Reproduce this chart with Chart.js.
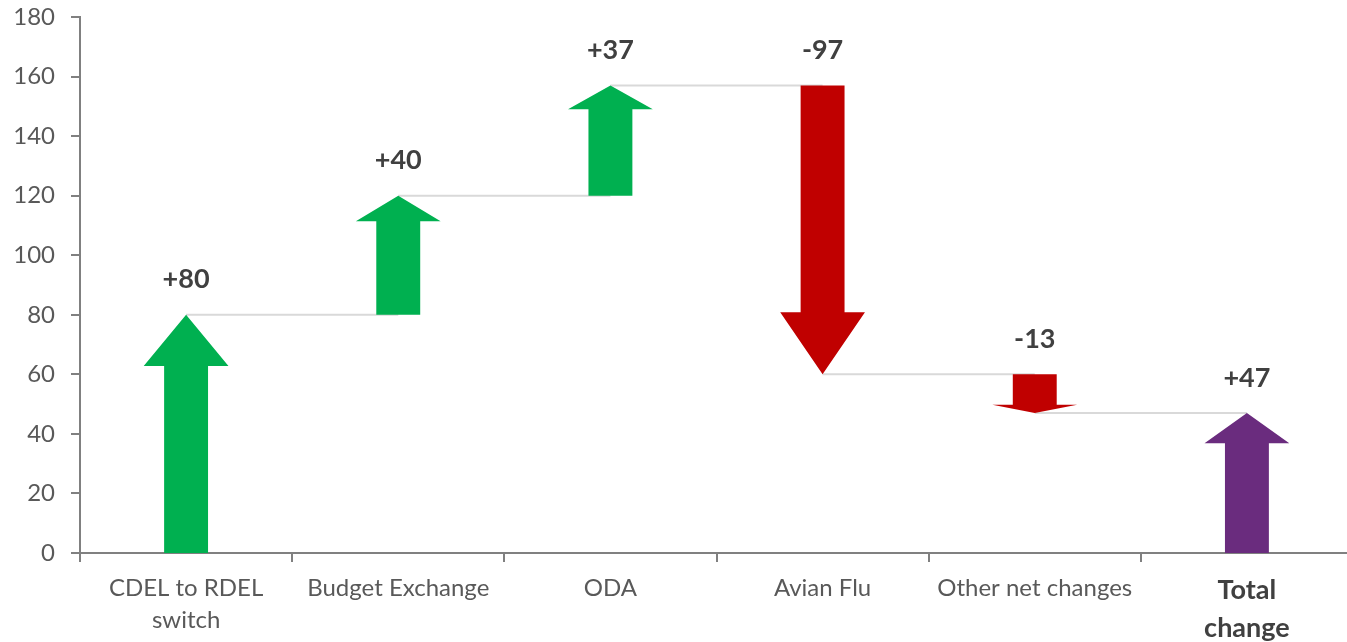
<!DOCTYPE html>
<html>
<head>
<meta charset="utf-8">
<script src="https://cdn.jsdelivr.net/npm/chart.js@4"></script>
<style>
  html, body { margin: 0; padding: 0; background: #ffffff; overflow: hidden; }
  #wrap { width: 1356px; height: 642px; }
</style>
</head>
<body>
<div id="wrap"><canvas id="c" width="1356" height="642"></canvas></div>
<script>
// ---- data ----
const categories = [['CDEL to RDEL', 'switch'], 'Budget Exchange', 'ODA', 'Avian Flu', 'Other net changes', ['Total', 'change']];
const changes = [80, 40, 37, -97, -13, 47];
const valueLabels = ['+80', '+40', '+37', '-97', '-13', '+47'];
const yTicks = [0, 20, 40, 60, 80, 100, 120, 140, 160, 180];

// floating [start, end] ranges built from the changes; last bar is the total from zero
const ranges = [];
let running = 0;
changes.forEach((c, i) => {
  if (i === changes.length - 1) {
    ranges.push([0, c]);
  } else {
    ranges.push([running, running + c]);
    running += c;
  }
});

const GREEN = '#00B050', RED = '#C00000', PURPLE = '#6A2C7E';
function colorFor(i) {
  if (i === changes.length - 1) return PURPLE;
  return changes[i] >= 0 ? GREEN : RED;
}

const arrowPlugin = {
  id: 'arrows',
  beforeDatasetsDraw(chart) {
    const ctx = chart.ctx, y = chart.scales.y;
    const meta = chart.getDatasetMeta(0);
    ctx.save();
    ctx.strokeStyle = '#D9D9D9';
    ctx.lineWidth = 2;
    for (let i = 0; i < ranges.length - 1; i++) {
      const yy = y.getPixelForValue(ranges[i][1]);
      ctx.beginPath();
      ctx.moveTo(meta.data[i].x, yy);
      ctx.lineTo(meta.data[i + 1].x, yy);
      ctx.stroke();
    }
    ctx.restore();
  },
  afterDatasetsDraw(chart) {
    const ctx = chart.ctx, y = chart.scales.y;
    const meta = chart.getDatasetMeta(0);
    ctx.save();
    meta.data.forEach((el, i) => {
      const s = y.getPixelForValue(ranges[i][0]);
      const e = y.getPixelForValue(ranges[i][1]);
      const dir = e < s ? -1 : 1; // -1: pointing up
      const len = Math.abs(e - s);
      const hw = el.width / 2;
      const headHalf = el.width * 0.965;
      const headLen = len * 0.215;
      const hb = e - dir * headLen;
      ctx.fillStyle = colorFor(i);
      ctx.beginPath();
      ctx.moveTo(el.x - hw, s);
      ctx.lineTo(el.x - hw, hb);
      ctx.lineTo(el.x - headHalf, hb);
      ctx.lineTo(el.x, e);
      ctx.lineTo(el.x + headHalf, hb);
      ctx.lineTo(el.x + hw, hb);
      ctx.lineTo(el.x + hw, s);
      ctx.closePath();
      ctx.fill();
      // value label
      const top = Math.min(s, e);
      ctx.fillStyle = '#404040';
      ctx.font = 'bold 27px Lato';
      ctx.textAlign = 'center';
      ctx.textBaseline = 'middle';
      ctx.fillText(valueLabels[i], el.x, top - 35);
    });
    ctx.restore();
  }
};

new Chart(document.getElementById('c'), {
  type: 'bar',
  data: {
    labels: categories,
    datasets: [{
      data: ranges,
      backgroundColor: 'rgba(0,0,0,0)',
      borderWidth: 0,
      barPercentage: 0.207,
      categoryPercentage: 1.0
    }]
  },
  options: {
    responsive: false,
    animation: false,
    devicePixelRatio: 1,
    layout: { padding: { top: 17, right: 3, left: 0, bottom: 0 } },
    plugins: { legend: { display: false }, tooltip: { enabled: false } },
    scales: {
      x: {
        offset: true,
        border: { display: true, color: '#808080', width: 2 },
        grid: { display: true, drawOnChartArea: false, drawTicks: true, tickLength: 9, color: '#808080', lineWidth: 2, offset: true },
        ticks: {
          padding: 10,
          autoSkip: false,
          maxRotation: 0,
          color: (c) => c.index === categories.length - 1 ? '#404040' : '#595959',
          font: (c) => c.index === categories.length - 1
            ? { family: 'Lato', size: 27, weight: 'bold', lineHeight: 1.38 }
            : { family: 'Lato', size: 24, lineHeight: 1.33 }
        },
        afterFit: (s) => { s.height = 89; s.paddingLeft = 0; s.paddingRight = 0; }
      },
      y: {
        min: 0,
        max: 180,
        afterBuildTicks: (s) => { s.ticks = yTicks.map(v => ({ value: v })); },
        border: { display: true, color: '#808080', width: 2 },
        grid: { display: true, drawOnChartArea: false, drawTicks: true, tickLength: 9, color: '#808080', lineWidth: 2 },
        ticks: { padding: 16, color: '#595959', font: { family: 'Lato', size: 24 } },
        afterFit: (s) => { s.width = 80; s.paddingTop = 0; s.paddingBottom = 0; }
      }
    }
  },
  plugins: [arrowPlugin]
});
</script>
</body>
</html>
